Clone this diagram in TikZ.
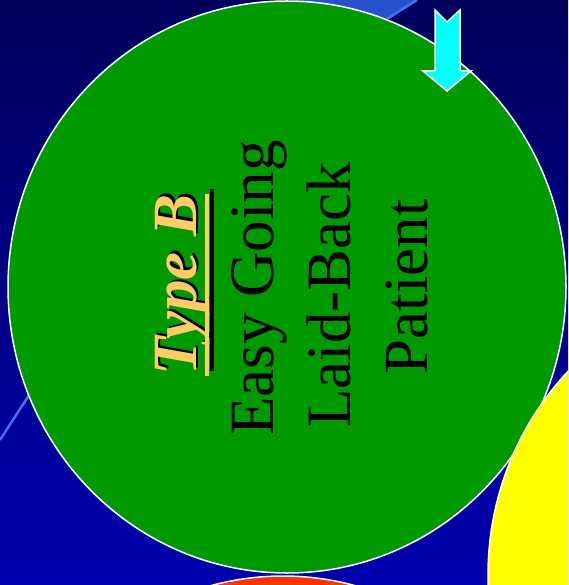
\documentclass[tikz,border=0pt]{standalone}
\usepackage{fontspec}
\setmainfont{Liberation Serif}

\definecolor{navytop}{RGB}{0,0,92}
\definecolor{navybottom}{RGB}{0,0,175}
\definecolor{beamblue}{RGB}{40,80,200}
\definecolor{beamline}{RGB}{64,112,255}
\definecolor{typegreen}{RGB}{0,153,0}
\definecolor{typeyellow}{RGB}{255,255,0}
\definecolor{typered}{RGB}{255,51,0}
\definecolor{headorange}{RGB}{255,204,102}
\definecolor{arrowcyan}{RGB}{0,255,255}

\begin{document}
\begin{tikzpicture}[x=1pt,y=-1pt,
	bubble/.style={draw=white,line width=1.5pt},
	typeline/.style={rotate=90,anchor=base,inner sep=0pt,font=\fontsize{63}{63}\selectfont}]
	% Fix the frame of the slide
	\useasboundingbox (0,0) rectangle (568,585);
	\clip (0,0) rectangle (568,585);
	
	% Draw the background
	\shade[top color=navytop, bottom color=navybottom] (0,0) rectangle (568,585);
	
	% Draw the light beam behind the circle
	\fill[beamblue] (0,440) .. controls (193,141) .. (417,0) -- (300,0) -- (120,200) -- (60,350) -- cycle;
	\draw[beamline, line width=2.5pt] (0,440) .. controls (193,141) .. (417,0);
	
	% Draw the circles
	\filldraw[bubble, fill=typegreen] (287,287) ellipse [x radius=279pt, y radius=286pt];
	\filldraw[bubble, fill=typeyellow] (773,575) ellipse [x radius=285pt, y radius=293pt];
	\filldraw[bubble, fill=typered] (283,862) ellipse [x radius=279pt, y radius=286pt];
	
	% Draw the down arrow
	\filldraw[draw=white, line width=1.5pt, fill=arrowcyan, line join=miter]
		(435,10) -- (447,22) -- (460,10) -- (460,71) -- (471,71) -- (447,91) -- (423,71) -- (435,71) -- cycle;
	
	% Heading with its shadow
	\node[typeline, black] (headshadow) at (198.5,282.5) {\textbf{\textit{Type B}}};
	\node[typeline, headorange] (head) at (196,285) {\textbf{\textit{Type B}}};
	\draw[black, line width=4pt] ([xshift=13.5pt,yshift=2.5pt]headshadow.base west) -- ([xshift=13.5pt,yshift=2.5pt]headshadow.base east);
	\draw[headorange, line width=4pt] ([xshift=11pt]head.base west) -- ([xshift=11pt]head.base east);
	
	% Traits
	\node[typeline] (easy) at (273,288) {Easy Going};
	\node[typeline] (laid) at (350,295) {Laid-Back};
	\node[typeline] (patient) at (427,287) {Patient};
\end{tikzpicture}
\end{document}
